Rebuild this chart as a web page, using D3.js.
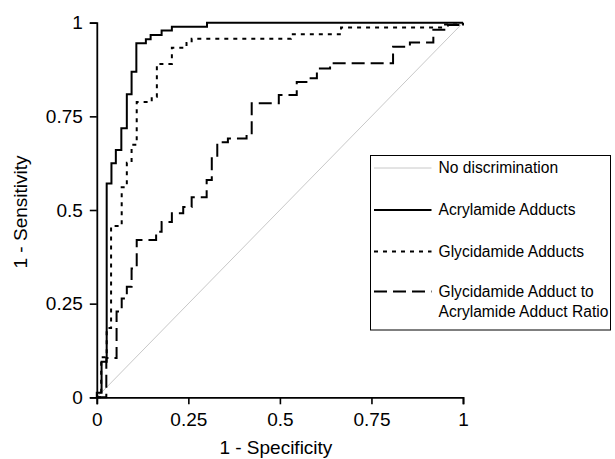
<!DOCTYPE html>
<html>
<head>
<meta charset="utf-8">
<script src="https://cdn.jsdelivr.net/npm/d3@7"></script>
<style>
  body { margin: 0; background: #fff; }
  svg { display: block; font-family: "Liberation Sans", Arial, sans-serif; }
</style>
</head>
<body>
<div id="chart"></div>
<script>
// ROC step points (1 - specificity, sensitivity)
var acrylFpr = [0, 0.013, 0.027, 0.040, 0.052, 0.067, 0.082, 0.095, 0.108, 0.134, 0.147, 0.177, 0.205, 0.301, 1];
var acrylTpr = [0, 0.012, 0.095, 0.571, 0.625, 0.660, 0.718, 0.809, 0.869, 0.945, 0.956, 0.967, 0.979, 0.989, 1];

var glyFpr = [0, 0.012, 0.027, 0.039, 0.068, 0.082, 0.095, 0.109, 0.150, 0.164, 0.205, 0.245, 0.259, 0.530, 0.667, 0.946, 1, 1];
var glyTpr = [0, 0, 0.107, 0.185, 0.457, 0.561, 0.626, 0.674, 0.788, 0.802, 0.890, 0.933, 0.946, 0.957, 0.969, 0.987, 0.995, 1];

var ratioFpr = [0, 0.026, 0.054, 0.068, 0.082, 0.095, 0.109, 0.162, 0.177, 0.205, 0.236, 0.259, 0.300, 0.314, 0.329, 0.358, 0.409, 0.423, 0.497, 0.546, 0.577, 0.601, 0.637, 0.809, 0.855, 0.919, 0.959, 1, 1];
var ratioTpr = [0, 0, 0.105, 0.229, 0.264, 0.295, 0.344, 0.420, 0.442, 0.468, 0.491, 0.508, 0.534, 0.580, 0.638, 0.681, 0.691, 0.705, 0.785, 0.807, 0.842, 0.852, 0.878, 0.892, 0.936, 0.947, 0.981, 0.994, 1];

var refFpr = [0, 1];
var refTpr = [0, 1];

var tickVals = [0, 0.25, 0.5, 0.75, 1];
var tickLabels = ["0", "0.25", "0.5", "0.75", "1"];

var legendLabels = [["No discrimination"], ["Acrylamide Adducts"], ["Glycidamide Adducts"], ["Glycidamide Adduct to", "Acrylamide Adduct Ratio"]];

// Set up the chart
//=================================
var svgWidth = 615;
var svgHeight = 459;
var margin = { top: 22.7, right: 152, bottom: 61.7, left: 96.8 };
var width = svgWidth - margin.left - margin.right;
var height = svgHeight - margin.top - margin.bottom;

var svg = d3.select("#chart").append("svg")
  .attr("width", svgWidth)
  .attr("height", svgHeight);

var chartGroup = svg.append("g")
  .attr("transform", `translate(${margin.left}, ${margin.top})`);

var xScale = d3.scaleLinear().domain([0, 1]).range([0, width]);
var yScale = d3.scaleLinear().domain([0, 1]).range([height, 0]);

function zip(xs, ys) {
  return xs.map((x, i) => [x, ys[i]]);
}

var stepLine = d3.line()
  .x(d => xScale(d[0]))
  .y(d => yScale(d[1]))
  .curve(d3.curveStepBefore);

var straightLine = d3.line()
  .x(d => xScale(d[0]))
  .y(d => yScale(d[1]));

// series styles
var series = [
  { pts: zip(refFpr, refTpr), line: straightLine, color: "#c8c8c8", width: 1, dash: null },
  { pts: zip(ratioFpr, ratioTpr), line: stepLine, color: "#000", width: 2, dash: "13,6" },
  { pts: zip(glyFpr, glyTpr), line: stepLine, color: "#000", width: 2, dash: "4,5" },
  { pts: zip(acrylFpr, acrylTpr), line: stepLine, color: "#000", width: 2, dash: null }
];

series.forEach(function(s) {
  chartGroup.append("path")
    .attr("d", s.line(s.pts))
    .attr("fill", "none")
    .attr("stroke", s.color)
    .attr("stroke-width", s.width)
    .attr("stroke-dasharray", s.dash);
});

// axes
var bottomAxis = d3.axisBottom(xScale)
  .tickValues(tickVals)
  .tickFormat((d, i) => tickLabels[i])
  .tickSizeOuter(0)
  .tickSize(7)
  .tickPadding(8);
var leftAxis = d3.axisLeft(yScale)
  .tickValues(tickVals)
  .tickFormat((d, i) => tickLabels[i])
  .tickSizeOuter(0)
  .tickSize(7)
  .tickPadding(7);

var xAxis = chartGroup.append("g")
  .attr("transform", `translate(0, ${height})`)
  .call(bottomAxis);
var yAxis = chartGroup.append("g").call(leftAxis);

[xAxis, yAxis].forEach(function(ax) {
  ax.select(".domain").attr("stroke", "#000").attr("stroke-width", 1.8);
  ax.selectAll(".tick line").attr("stroke", "#000").attr("stroke-width", 1.6);
  ax.selectAll(".tick text")
    .attr("fill", "#000")
    .attr("font-size", "19px")
    .attr("font-family", "Liberation Sans, Arial, sans-serif");
});

// axis labels
chartGroup.append("text")
  .attr("x", width / 2 - 4)
  .attr("y", height + 57)
  .attr("text-anchor", "middle")
  .attr("font-size", "19px")
  .text("1 - Specificity");

chartGroup.append("text")
  .attr("transform", "rotate(-90)")
  .attr("x", 0 - (height / 2) - 2)
  .attr("y", 0 - margin.left + 27)
  .attr("text-anchor", "middle")
  .attr("font-size", "19px")
  .text("1 - Sensitivity");

// legend
var legend = svg.append("g").attr("transform", "translate(370.5, 155.5)");
legend.append("rect")
  .attr("width", 240)
  .attr("height", 174.5)
  .attr("fill", "#fff")
  .attr("stroke", "#000")
  .attr("stroke-width", 1);

var legendRows = [12.5, 54.5, 96, 136];
var legendStyles = [series[0], series[3], series[2], series[1]];

legendLabels.forEach(function(lines, i) {
  var s = legendStyles[i];
  legend.append("line")
    .attr("x1", 3.5)
    .attr("x2", 61)
    .attr("y1", legendRows[i])
    .attr("y2", legendRows[i])
    .attr("stroke", s.color)
    .attr("stroke-width", s.width)
    .attr("stroke-dasharray", s.dash);
  lines.forEach(function(t, j) {
    legend.append("text")
      .attr("x", 68)
      .attr("y", legendRows[i] + j * 20)
      .attr("dy", "0.35em")
      .attr("font-size", "15.6px")
      .text(t);
  });
});
</script>
</body>
</html>
